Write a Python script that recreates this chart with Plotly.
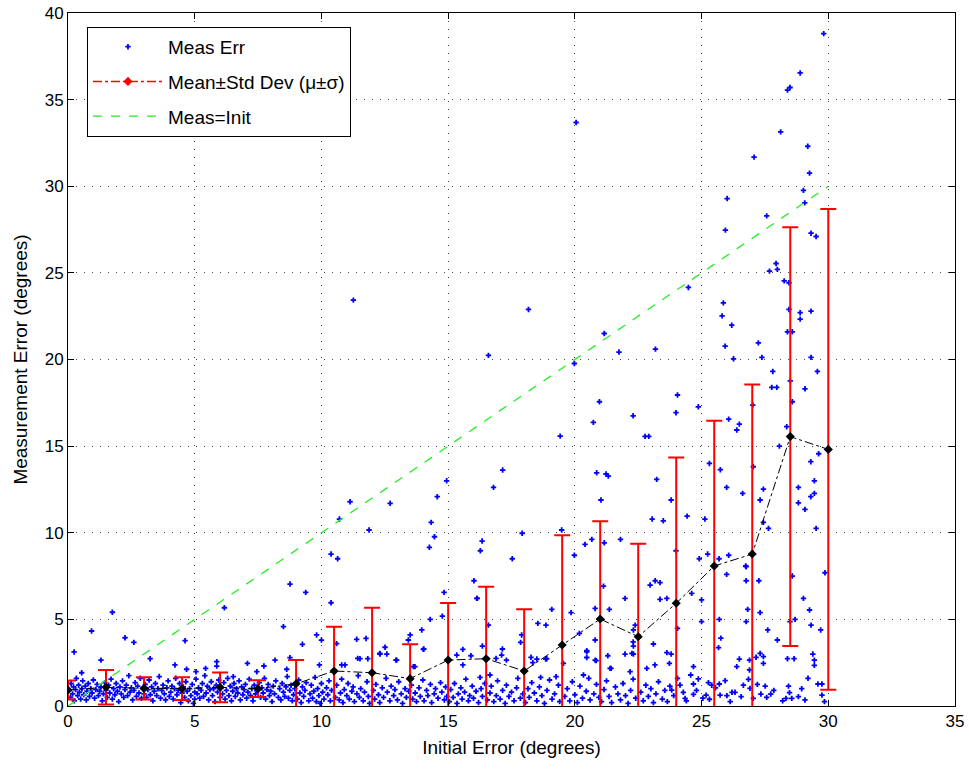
import plotly.graph_objects as go

# ---- Data ----
# Scattered measurement errors (x = initial error, y = measurement error), degrees
meas_upper = [
    (1.75, 5.41), (0.93, 4.33), (0.24, 3.12), (1.30, 2.65), (0.54, 1.92), (2.25, 3.94), (2.60, 3.67),
    (3.24, 2.73), (4.62, 3.77), (6.17, 5.67), (4.22, 2.37), (4.68, 2.12), (5.43, 2.17), (5.87, 2.56),
    (5.87, 2.30), (5.05, 1.98), (7.08, 2.46), (7.45, 1.98), (7.73, 2.31), (8.17, 2.65), (6.52, 1.69),
    (8.50, 4.58), (8.76, 7.04), (9.38, 6.56), (10.38, 5.96), (9.25, 3.56), (9.81, 4.10), (10.0, 3.80),
    (10.6, 3.60), (11.39, 3.85), (11.76, 3.90), (11.52, 2.73), (11.83, 2.73), (12.31, 3.00), (12.51, 3.39),
    (12.58, 3.00), (12.94, 2.65), (13.50, 4.10), (13.43, 3.81), (13.96, 4.39), (14.02, 3.27), (13.69, 2.27),
    (14.29, 5.00), (14.84, 6.56), (14.77, 5.19), (15.34, 2.94), (15.58, 3.27), (15.58, 2.37), (16.02, 7.23),
    (16.13, 6.21), (9.92, 2.37), (8.63, 2.12), (8.76, 2.79), (10.8, 2.37), (10.93, 2.37), (11.43, 2.75),
    (11.26, 23.43), (18.17, 22.89), (16.59, 20.24), (19.98, 19.77), (19.42, 15.58), (17.15, 13.62),
    (16.79, 12.62), (14.94, 13.00), (14.57, 12.08), (11.13, 11.79), (12.71, 11.70), (10.71, 10.79),
    (14.33, 10.60), (11.88, 10.16), (14.46, 9.77), (14.26, 9.16), (10.38, 8.77), (10.64, 8.50),
    (16.34, 9.52), (16.27, 8.96), (17.53, 8.50), (17.92, 9.97), (19.48, 10.16), (19.98, 8.70),
    (24.48, 24.16), (21.16, 21.50), (21.74, 20.43), (23.18, 20.60), (25.86, 23.27), (25.81, 22.52),
    (26.19, 21.98), (25.93, 20.77), (26.26, 20.04), (27.24, 20.96), (27.38, 20.12), (27.68, 25.10),
    (27.99, 25.20), (28.26, 24.54), (28.45, 24.43), (28.45, 22.89), (28.39, 21.60), (28.58, 21.60),
    (28.89, 22.70), (28.89, 22.33), (29.32, 22.79), (29.32, 20.12), (29.57, 19.31), (27.81, 19.31),
    (27.77, 18.39), (27.97, 18.39), (28.50, 18.77), (28.58, 17.56), (29.08, 18.31), (27.02, 17.37),
    (26.07, 16.56), (26.49, 16.27), (26.39, 15.93), (24.87, 17.27), (24.05, 17.95), (23.99, 16.93),
    (20.97, 17.56), (20.73, 16.37), (22.30, 16.75), (22.77, 15.56), (22.92, 15.56), (28.36, 16.12),
    (28.07, 15.00), (29.62, 14.56), (29.31, 14.10), (25.31, 14.00), (25.74, 13.64), (27.04, 13.81),
    (20.86, 13.46), (21.23, 13.39), (21.32, 13.27), (23.23, 13.08), (25.99, 12.62), (27.44, 12.52),
    (26.62, 12.27), (27.31, 11.89), (21.03, 11.89), (23.80, 11.89), (28.82, 12.62), (29.45, 13.00),
    (29.31, 12.08), (29.45, 12.27), (28.82, 11.73), (29.08, 11.35), (23.05, 10.79), (23.49, 10.69),
    (24.43, 10.96), (25.13, 10.79), (27.44, 10.60), (27.64, 10.25), (29.52, 10.25), (20.40, 9.33),
    (20.67, 9.62), (21.16, 9.42), (21.80, 9.62), (23.99, 8.96), (24.91, 8.50), (25.24, 8.77),
    (25.69, 8.50), (26.07, 8.70), (26.74, 8.08),
    (29.82, 38.81), (28.89, 36.54), (28.49, 35.70), (28.39, 35.55), (28.12, 33.14), (29.19, 32.31),
    (27.07, 31.68), (29.26, 30.76), (29.02, 29.76), (29.07, 29.04), (26.01, 29.29), (27.57, 28.29),
    (25.94, 27.47), (29.32, 27.29), (29.52, 27.10), (27.94, 25.54), (20.05, 33.68),
    (25.99, 7.60), (26.76, 8.04), (26.76, 7.23), (27.26, 7.23), (28.58, 7.50), (29.87, 7.69),
    (29.02, 6.21), (29.26, 5.54), (28.69, 5.00), (28.49, 4.87), (29.32, 4.67), (29.70, 4.39),
    (26.82, 5.58), (27.31, 5.39), (25.70, 5.00), (26.76, 4.87), (27.61, 4.39), (27.99, 3.81),
    (25.76, 3.92), (25.67, 3.37), (25.00, 6.12), (25.00, 4.87), (24.61, 6.50), (24.05, 4.48),
    (26.49, 2.71), (26.89, 2.65), (27.31, 3.04), (27.44, 2.85), (27.15, 2.81), (27.44, 2.46),
    (26.39, 2.27), (26.89, 2.08), (28.39, 2.73), (28.65, 2.73), (29.39, 3.00), (29.45, 2.65),
    (29.45, 2.35), (24.68, 2.27),
    (16.15, 6.21), (16.59, 4.67), (16.35, 3.46), (17.11, 2.94), (16.89, 2.75), (17.90, 4.10),
    (17.86, 3.67), (18.27, 2.81), (18.34, 2.50), (18.54, 4.77), (18.86, 4.67), (19.09, 5.58),
    (18.89, 2.73), (19.85, 5.39), (20.18, 4.19), (20.47, 3.19), (20.47, 2.80), (20.80, 5.63),
    (20.84, 2.62), (20.80, 3.81), (21.13, 6.92), (21.36, 5.58), (21.30, 2.90), (21.43, 2.17),
    (21.98, 6.21), (21.98, 3.00), (22.31, 3.00), (22.31, 4.39), (22.31, 3.46), (22.38, 4.67),
    (23.10, 3.58), (23.17, 7.23), (23.36, 7.12), (22.97, 6.98), (23.36, 6.16), (23.63, 6.21),
    (23.63, 3.08), (23.73, 2.46), (22.84, 2.17),
    (12.30, 3.04), (12.97, 2.65), (14.04, 3.29), (13.63, 2.27), (15.90, 2.90), (17.14, 3.29),
    (17.30, 2.65), (18.50, 2.71), (18.85, 2.71), (19.55, 2.46), (20.47, 3.13), (20.80, 2.65),
    (21.39, 2.17), (22.25, 3.04), (23.16, 2.37), (23.80, 3.00), (22.30, 3.70),
]

meas_band = [
    (0.05, 0.9), (0.1, 0.5), (0.12, 1.3), (0.18, 0.7), (0.22, 1.1), (0.25, 0.3), (0.3, 0.95), (0.33, 1.6),
    (0.38, 0.6), (0.42, 1.2), (0.45, 0.8), (0.5, 0.4), (0.55, 1.0), (0.58, 1.45), (0.62, 0.65), (0.68, 1.15),
    (0.72, 0.35), (0.75, 0.85), (0.8, 1.3), (0.85, 0.55), (0.9, 1.0), (0.95, 0.75), (1.0, 1.5), (1.05, 0.45),
    (1.1, 0.95), (1.15, 1.25), (1.2, 0.6), (1.25, 0.85), (1.3, 1.1), (1.35, 0.3), (1.4, 0.7), (1.45, 1.35),
    (1.5, 0.9), (1.55, 0.5),
    (1.6, 1.2), (1.65, 0.75), (1.7, 1.55), (1.75, 0.4), (1.8, 1.0), (1.85, 0.65), (1.9, 1.3), (1.95, 0.85),
    (2.0, 0.25), (2.05, 1.1), (2.1, 0.7), (2.15, 1.45), (2.2, 0.5), (2.25, 0.95), (2.3, 1.2), (2.35, 0.6),
    (2.4, 1.75), (2.45, 0.8), (2.5, 1.05), (2.55, 0.35), (2.6, 0.9), (2.65, 1.35), (2.7, 0.55), (2.75, 1.15),
    (2.8, 0.75), (2.85, 1.6), (2.9, 0.45), (2.95, 1.0), (3.0, 0.7),
    (3.05, 1.25), (3.1, 0.5), (3.15, 0.95), (3.2, 1.5), (3.25, 0.65), (3.3, 1.1), (3.35, 0.3), (3.4, 0.85),
    (3.45, 1.3), (3.5, 0.6), (3.55, 1.0), (3.6, 1.7), (3.65, 0.45), (3.7, 0.9), (3.75, 1.2), (3.8, 0.7),
    (3.85, 0.35), (3.9, 1.05), (3.95, 1.45), (4.0, 0.55), (4.05, 0.8), (4.1, 1.15), (4.15, 0.4), (4.2, 1.0),
    (4.25, 1.6), (4.3, 0.65), (4.35, 0.9), (4.4, 1.3), (4.45, 0.2), (4.5, 0.75),
    (4.55, 1.1), (4.6, 0.5), (4.65, 1.4), (4.7, 0.85), (4.75, 0.3), (4.8, 1.0), (4.85, 0.6), (4.9, 1.25),
    (4.95, 0.15), (5.0, 0.8), (5.0, 0.4), (5.05, 1.55), (5.1, 0.7), (5.15, 1.05), (5.2, 0.45), (5.25, 0.9),
    (5.3, 1.3), (5.35, 0.55), (5.4, 1.75), (5.45, 0.75), (5.5, 1.15), (5.55, 0.35), (5.6, 0.95), (5.65, 1.4),
    (5.7, 0.6), (5.75, 1.0), (5.8, 0.25), (5.85, 1.2), (5.9, 0.8), (5.95, 1.5),
    (6.0, 0.5), (6.05, 1.05), (6.1, 0.7), (6.15, 1.35), (6.2, 0.4), (6.25, 0.9), (6.3, 1.6), (6.35, 0.6),
    (6.4, 1.15), (6.45, 0.3), (6.5, 0.85), (6.55, 1.3), (6.6, 0.55), (6.65, 1.0), (6.7, 0.75), (6.75, 1.45),
    (6.8, 0.35), (6.85, 1.1), (6.9, 0.65), (6.95, 0.95), (7.0, 1.25), (7.05, 0.45), (7.1, 0.8), (7.15, 1.55),
    (7.2, 0.6), (7.25, 1.0), (7.3, 0.3), (7.35, 1.2), (7.4, 0.7), (7.45, 0.9),
    (7.55, 1.35), (7.6, 0.5), (7.65, 1.05), (7.7, 0.75), (7.75, 1.6), (7.8, 0.4), (7.85, 0.95), (7.9, 1.25),
    (7.95, 0.6), (8.0, 0.85), (8.05, 0.25), (8.1, 1.15), (8.15, 0.7), (8.2, 1.45), (8.3, 0.5), (8.35, 1.0),
    (8.4, 0.35), (8.45, 1.3), (8.5, 0.8), (8.55, 0.55), (8.6, 1.1), (8.65, 1.7), (8.7, 0.45), (8.75, 0.9),
    (8.8, 1.2), (8.85, 0.3), (8.9, 0.65), (8.95, 1.0),
    (9.05, 0.4), (9.1, 1.5), (9.15, 0.75), (9.2, 0.2), (9.25, 1.1), (9.3, 0.55), (9.35, 0.9), (9.4, 1.35),
    (9.5, 0.3), (9.55, 0.7), (9.6, 1.2), (9.65, 0.45), (9.7, 0.85), (9.75, 1.65), (9.8, 0.25), (9.85, 1.0),
    (9.9, 0.6), (9.95, 0.15), (10.0, 1.3), (10.05, 0.8), (10.1, 0.4), (10.2, 1.05), (10.25, 0.65),
    (10.3, 1.45), (10.35, 0.3), (10.4, 0.9),
    (10.55, 0.5), (10.6, 1.2), (10.7, 0.35), (10.75, 0.75), (10.8, 1.55), (10.85, 0.2), (10.9, 0.95),
    (11.0, 0.6), (11.05, 1.3), (11.1, 0.4), (11.2, 0.85), (11.25, 1.1), (11.3, 0.25), (11.4, 0.7),
    (11.45, 1.75), (11.5, 0.5), (11.55, 1.0), (11.65, 0.3), (11.7, 0.8), (11.8, 1.4), (11.85, 0.55),
    (11.9, 0.15),
    (12.05, 0.9), (12.1, 0.4), (12.15, 1.25), (12.25, 0.65), (12.3, 0.2), (12.4, 1.05), (12.45, 0.5),
    (12.55, 1.6), (12.6, 0.8), (12.7, 0.3), (12.75, 1.15), (12.85, 0.6), (12.9, 0.95), (13.0, 0.35),
    (13.05, 1.4), (13.15, 0.7), (13.2, 0.15), (13.3, 1.0), (13.35, 0.5), (13.45, 0.85),
    (13.55, 1.2), (13.6, 0.4), (13.7, 0.75), (13.75, 0.25), (13.85, 1.05), (13.9, 0.55), (14.0, 1.5),
    (14.05, 0.3), (14.15, 0.9), (14.2, 0.6), (14.3, 1.25), (14.35, 0.2), (14.45, 0.7), (14.5, 1.0),
    (14.6, 0.45), (14.7, 1.35), (14.75, 0.8), (14.85, 0.35), (14.9, 1.1), (14.95, 0.55),
    (15.05, 0.25), (15.1, 0.95), (15.2, 0.5), (15.25, 1.3), (15.35, 0.15), (15.4, 0.7), (15.5, 1.05),
    (15.55, 0.4), (15.65, 0.8), (15.7, 1.55), (15.8, 0.3), (15.85, 0.6), (15.95, 1.15), (16.0, 0.45),
    (16.1, 0.85), (16.2, 0.2), (16.3, 1.0), (16.35, 0.55), (16.45, 1.3),
    (16.55, 0.35), (16.65, 0.75), (16.7, 1.15), (16.8, 0.25), (16.9, 0.6), (16.95, 1.45), (17.05, 0.4),
    (17.15, 0.9), (17.25, 0.15), (17.3, 1.2), (17.4, 0.55), (17.5, 0.8), (17.6, 0.3), (17.7, 1.05),
    (17.75, 1.6), (17.85, 0.45), (17.95, 0.7), (16.65, 1.79), (16.26, 1.65), (19.26, 1.69), (18.65, 1.65),
    (18.05, 0.2), (18.15, 1.0), (18.2, 0.5), (18.3, 1.35), (18.4, 0.75), (18.5, 0.3), (18.6, 1.1),
    (18.7, 0.6), (18.8, 0.15), (18.9, 0.9), (19.0, 1.5), (19.1, 0.4), (19.2, 0.7), (19.35, 1.2), (19.4, 0.25),
    (19.6, 0.55), (19.7, 1.0), (19.8, 0.3), (19.9, 1.4), (20.0, 0.65), (20.1, 0.2), (20.2, 1.15),
    (20.3, 0.45), (20.45, 0.85), (20.55, 1.6), (20.6, 0.35), (20.75, 0.7), (20.85, 1.25), (20.95, 0.5),
    (20.34, 1.79), (22.18, 1.98),
    (21.05, 0.25), (21.15, 0.95), (21.25, 1.45), (21.35, 0.55), (21.45, 0.2), (21.6, 1.1), (21.7, 0.7),
    (21.8, 0.35), (21.9, 1.3), (22.0, 0.6), (22.1, 0.15), (22.2, 0.9), (22.3, 1.55), (22.4, 0.45),
    (22.6, 0.8), (22.7, 0.3), (22.8, 1.2), (22.9, 0.55), (23.0, 1.0), (23.1, 0.2), (23.2, 0.7), (23.3, 1.4),
    (23.45, 0.4), (23.55, 0.9), (23.65, 0.25), (23.75, 1.15), (23.9, 0.6), (23.82, 0.92),
    (24.57, 1.79), (24.68, 1.27), (24.87, 1.56), (24.05, 1.60), (24.15, 1.21), (24.28, 0.79), (24.68, 0.67),
    (24.35, 0.44), (25.27, 1.35), (25.40, 1.20), (25.18, 0.63), (25.31, 0.39), (25.70, 1.27), (25.93, 1.46),
    (25.73, 0.63), (26.13, 0.25), (26.32, 0.79), (26.56, 0.54), (26.85, 1.54), (26.91, 1.02), (27.04, 0.44),
    (27.20, 1.25), (27.51, 1.15), (27.34, 0.69), (27.57, 0.50), (27.73, 0.69), (28.43, 1.15), (28.47, 0.77),
    (28.33, 0.44), (28.56, 0.44), (28.82, 0.54), (29.08, 0.35), (29.59, 1.27), (29.75, 1.27), (29.75, 0.63),
    (26.20, 0.79), (24.4, 0.3), (24.8, 0.9), (25.05, 0.45), (25.55, 1.05), (26.0, 0.6), (26.65, 1.2),
    (27.85, 0.9), (28.2, 0.3), (28.95, 1.0), (29.2, 1.6), (29.85, 0.25),
]

# Binned statistics (mean and standard deviation of the measurement error)
bin_x = [0, 1.5, 3, 4.5, 6, 7.5, 9, 10.5, 12, 13.5, 15, 16.5, 18, 19.5, 21, 22.5, 24, 25.5, 27, 28.5, 30]
bin_mean = [0.92, 1.08, 1.02, 1.0, 1.08, 1.0, 1.28, 2.02, 1.92, 1.58, 2.65, 2.73, 2.02, 3.52, 5.02, 4.0,
            5.93, 8.08, 8.77, 15.55, 14.81]
bin_std = [0.55, 1.0, 0.64, 0.66, 0.86, 0.48, 1.37, 2.56, 3.75, 1.98, 3.29, 4.15, 3.56, 6.33, 5.65, 5.37,
           8.42, 8.38, 9.79, 12.08, 13.87]

# Reference line Meas = Init
init_line_x = [0, 30]
init_line_y = [0, 30]

x_ticks = [0, 5, 10, 15, 20, 25, 30, 35]
y_ticks = [0, 5, 10, 15, 20, 25, 30, 35, 40]

# ---- Figure ----
all_pts = meas_band + meas_upper
meas_x = [p[0] for p in all_pts]
meas_y = [p[1] for p in all_pts]

FONT = "Liberation Sans, Arial, sans-serif"

fig = go.Figure()

fig.add_trace(go.Scatter(
    x=meas_x, y=meas_y, mode="markers", name="Meas Err", legendgroup="a",
    marker=dict(symbol="cross", size=4.5, color="#0000ff", line=dict(width=0)),
))

# legend-only entry for the mean +/- std series
fig.add_trace(go.Scatter(
    x=[None], y=[None], mode="lines+markers", name="Mean±Std Dev (μ±σ)", legendgroup="b",
    line=dict(color="#ff0000", width=1.5, dash="dashdot"),
    marker=dict(symbol="diamond", size=7, color="#ff0000"),
))

fig.add_trace(go.Scatter(
    x=bin_x, y=bin_mean, mode="markers", showlegend=False, legendgroup="b",
    marker=dict(size=2, color="rgba(0,0,0,0)"),
    error_y=dict(type="data", array=bin_std, visible=True, color="#ff0000", thickness=2, width=8),
))

fig.add_trace(go.Scatter(
    x=bin_x, y=bin_mean, mode="lines+markers", showlegend=False, legendgroup="b",
    line=dict(color="black", width=1, dash="dashdot"),
    marker=dict(symbol="diamond", size=7, color="black"),
))

fig.add_trace(go.Scatter(
    x=init_line_x, y=init_line_y, mode="lines", name="Meas=Init", legendgroup="c",
    line=dict(color="#22ee22", width=1.3, dash="dash"),
))

axis_common = dict(
    showline=True, linecolor="black", linewidth=1, mirror="ticks",
    ticks="inside", ticklen=6, tickcolor="black", tickwidth=1,
    showgrid=True, gridcolor="#444444", griddash="1px,7px", gridwidth=1,
    zeroline=False, tickfont=dict(size=17, color="black", family=FONT),
    automargin=False,
)

fig.update_layout(
    width=969, height=769,
    margin=dict(l=68, r=14, t=13, b=63),
    paper_bgcolor="white", plot_bgcolor="white",
    font=dict(family=FONT, size=17, color="black"),
    xaxis=dict(range=[0, 35], tickvals=x_ticks,
               title=dict(text="Initial Error (degrees)", font=dict(size=19), standoff=10),
               **axis_common),
    yaxis=dict(range=[0, 40], tickvals=y_ticks,
               title=dict(text="Measurement Error (degrees)", font=dict(size=19), standoff=12),
               **axis_common),
    legend=dict(
        x=0.0214, y=0.98, xanchor="left", yanchor="top",
        bgcolor="white", bordercolor="black", borderwidth=1,
        font=dict(size=19, family=FONT), traceorder="grouped", tracegroupgap=7,
        itemwidth=70,
    ),
    showlegend=True,
)

fig.write_html("out.html", config={"displayModeBar": False},
               post_script="document.body.style.margin='0px';")
